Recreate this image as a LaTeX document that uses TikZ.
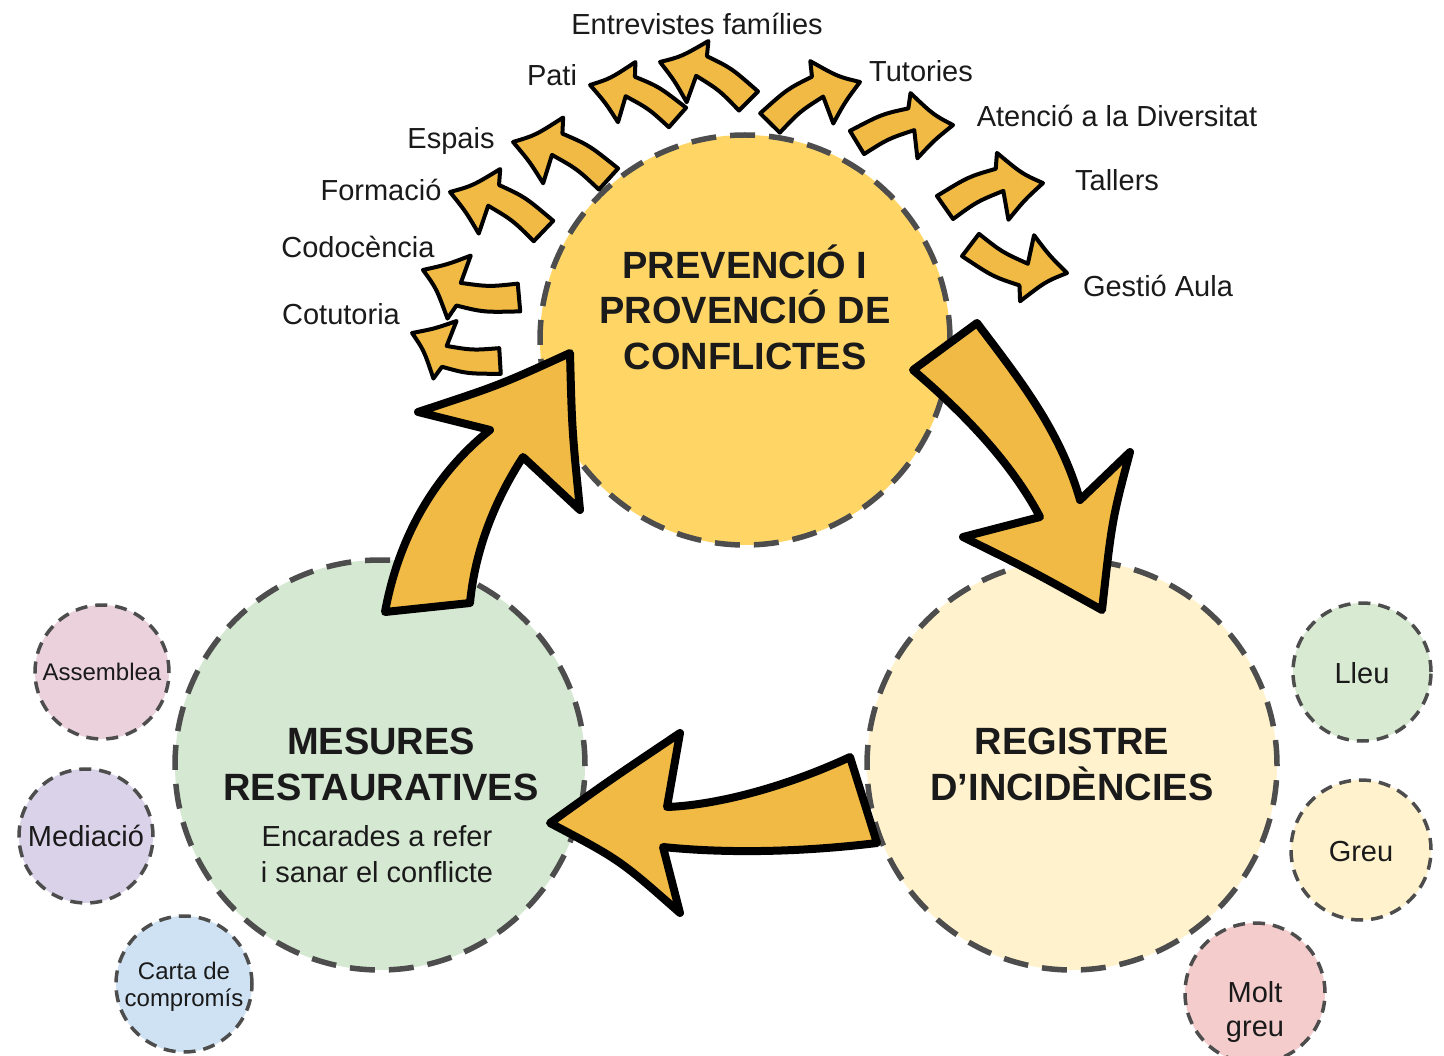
\documentclass[tikz,border=0pt]{standalone}
\usepackage{fontspec}
\setmainfont{Liberation Sans}
\definecolor{prevfill}{HTML}{FFD666}
\definecolor{regfill}{HTML}{FFF2CC}
\definecolor{mesfill}{HTML}{D5E8D2}
\definecolor{assfill}{HTML}{EAD1DC}
\definecolor{medfill}{HTML}{D9D2E9}
\definecolor{cartfill}{HTML}{CFE2F3}
\definecolor{lleufill}{HTML}{D9EAD3}
\definecolor{greufill}{HTML}{FFF2CC}
\definecolor{moltfill}{HTML}{F4CCCC}
\definecolor{arrowfill}{HTML}{F1BA45}
\definecolor{dashc}{HTML}{4D4D4D}
\definecolor{txt}{HTML}{1A1A1A}
\begin{document}
\begin{tikzpicture}[x=1pt,y=-1pt,
  bigc/.style={circle, draw=dashc, line width=5.5pt, dash pattern=on 25pt off 14pt, minimum size=410pt, inner sep=0pt},
  smallc/.style={circle, draw=dashc, line width=3.5pt, dash pattern=on 12pt off 8pt, inner sep=0pt},
  bigarrow/.style={fill=arrowfill, draw=black, line width=8pt, line join=round},
  smallarrowstyle/.style={fill=arrowfill, draw=black, line width=4pt, line join=round},
  lbl/.style={font=\fontsize{29}{34}\selectfont, anchor=base, text=txt, inner sep=0pt},
  sml/.style={font=\fontsize{24}{28}\selectfont, anchor=base, text=txt, inner sep=0pt},
  ttl/.style={font=\fontsize{38}{45}\selectfont\bfseries, anchor=base, text=txt, inner sep=0pt},
  sarr/.pic={\draw[smallarrowstyle] (0.05,0.13) .. controls (0.32,0.02) .. (0.60,-0.02) -- (0.58,0.27) .. controls (0.78,0.12) .. (1,0) .. controls (0.82,-0.14) .. (0.63,-0.40) -- (0.58,-0.25) .. controls (0.30,-0.24) .. (-0.05,-0.13) -- cycle;}
]
\useasboundingbox (0,0) rectangle (1444,1056);
\fill[white] (0,0) rectangle (1444,1056);

% main circles
\node[bigc, fill=prevfill] (prev) at (745,340) {};
\node[bigc, fill=regfill] (reg) at (1072,765) {};
\node[bigc, fill=mesfill] (mes) at (380,765) {};

% small circles
\node[smallc, fill=assfill, minimum size=134pt] (ass) at (102,672) {};
\node[smallc, fill=medfill, minimum size=134pt] (med) at (86,836) {};
\node[smallc, fill=cartfill, minimum size=136pt] (cart) at (184,984) {};
\node[smallc, fill=lleufill, minimum size=138pt] (lleu) at (1362,672) {};
\node[smallc, fill=greufill, minimum size=140pt] (greu) at (1361,850) {};
\node[smallc, fill=moltfill, minimum size=140pt] (molt) at (1255,993) {};

% big arrows
\draw[bigarrow] (913,370) -- (977,323) .. controls (1020,380) and (1060,430) .. (1080,500) -- (1130,452) .. controls (1112,520) .. (1102,610) .. controls (1030,570) .. (963,537) -- (1040,517) .. controls (1010,460) and (960,410) .. cycle;
\draw[bigarrow] (877,843) -- (850,757) .. controls (790,785) and (720,805) .. (667,807) -- (680,733) .. controls (610,780) .. (550,823) .. controls (620,860) .. (680,913) -- (663,847) .. controls (740,855) and (820,850) .. cycle;
\draw[bigarrow] (385,612) .. controls (400,530) and (440,470) .. (490,430) -- (418,412) .. controls (500,385) .. (570,353) .. controls (572,430) .. (580,510) -- (523,457) .. controls (495,500) and (475,550) .. (470,603) -- cycle;

% small arrows
\pic[rotate=162.35, scale=92.3] at (500,361) {sarr};
\pic[rotate=164.0, scale=99.9] at (519,297.5) {sarr};
\pic[rotate=157.35, scale=101.3, yscale=-1] at (543.5,231) {sarr};
\pic[rotate=158.8, scale=102.4, yscale=-1] at (608.5,179) {sarr};
\pic[rotate=159.6, scale=93.3, yscale=-1] at (677.5,117.5) {sarr};
\pic[rotate=156.2, scale=96.7, yscale=-1] at (748.5,101) {sarr};
\pic[rotate=24.5, scale=98.9] at (770,123) {sarr};
\pic[rotate=10.3, scale=97.6] at (857,142.5) {sarr};
\pic[rotate=14.0, scale=101.0] at (945,207.5) {sarr};
\pic[rotate=-16.2, scale=100.5, yscale=-1] at (970.5,245) {sarr};

% labels of the small arrows
\node[lbl] (l1) at (697,35) {Entrevistes famílies};
\node[lbl] (l2) at (552,86) {Pati};
\node[lbl] (l3) at (921,82) {Tutories};
\node[lbl] (l4) at (1117,127) {Atenció a la Diversitat};
\node[lbl] (l5) at (451,149) {Espais};
\node[lbl] (l6) at (381,201) {Formació};
\node[lbl] (l7) at (1117,191) {Tallers};
\node[lbl] (l8) at (358,258) {Codocència};
\node[lbl] (l9) at (1158,297) {Gestió Aula};
\node[lbl] (l10) at (341,325) {Cotutoria};

% titles
\node[ttl] (t1) at (745,279) {PREVENCIÓ I};
\node[ttl] (t2) at (745,324) {PROVENCIÓ DE};
\node[ttl] (t3) at (745,370) {CONFLICTES};
\node[ttl] (m1) at (381,754) {MESURES};
\node[ttl] (m2) at (381,800) {RESTAURATIVES};
\node[lbl] (m3) at (377,846) {Encarades a refer};
\node[lbl] (m4) at (377,882) {i sanar el conflicte};
\node[ttl] (r1) at (1072,754) {REGISTRE};
\node[ttl] (r2) at (1072,800) {D’INCIDÈNCIES};

% small circle texts
\node[sml] (a1) at (102,680) {Assemblea};
\node[lbl] (a2) at (86,846) {Mediació};
\node[sml] (a3) at (184,979) {Carta de};
\node[sml] (a4) at (184,1006) {compromís};
\node[lbl] (a5) at (1362,683) {Lleu};
\node[lbl] (a6) at (1361,861) {Greu};
\node[lbl] (a7) at (1255,1002) {Molt};
\node[lbl] (a8) at (1255,1036) {greu};
\end{tikzpicture}
\end{document}
